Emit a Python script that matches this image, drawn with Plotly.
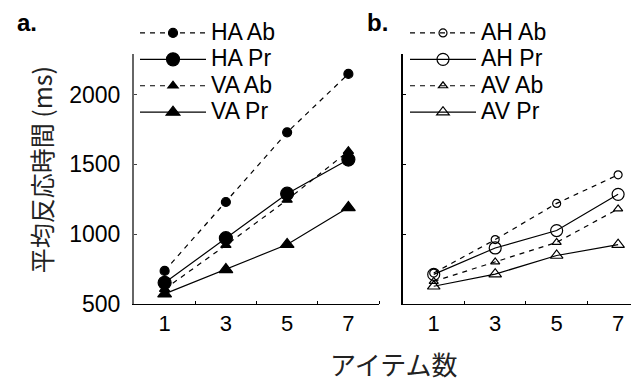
import plotly.graph_objects as go

items = [1, 3, 5, 7]
x_ticks = [1, 3, 5, 7]
y_ticks = [500, 1000, 1500, 2000]

ha_ab = [735, 1230, 1730, 2150]
ha_pr = [650, 970, 1290, 1535]
va_ab = [605, 920, 1245, 1595]
va_pr = [570, 745, 925, 1190]

ah_ab = [720, 960, 1220, 1425]
ah_pr = [710, 900, 1025, 1285]
av_ab = [660, 800, 940, 1180]
av_pr = [625, 712, 846, 924]

W, H = 639, 385
FONT = "Liberation Sans, Arial, sans-serif"
DASH = "5px,5px"

fig = go.Figure()

def add(name, ys, xa, ya, leg, dash, symbol, size):
    fig.add_trace(go.Scatter(
        x=items, y=ys,
        name="<span style='font-size:23px'>" + name + "</span>",
        mode="lines+markers",
        xaxis=xa, yaxis=ya, legend=leg,
        line=dict(color="black", width=1.2, dash=dash),
        marker=dict(symbol=symbol, size=size, color="black",
                    line=dict(color="black", width=1.2)),
    ))

add("HA Ab", ha_ab, "x", "y", "legend", DASH, "circle", 9)
add("HA Pr", ha_pr, "x", "y", "legend", "solid", "circle", 13)
add("VA Ab", va_ab, "x", "y", "legend", DASH, "triangle-up", 9)
add("VA Pr", va_pr, "x", "y", "legend", "solid", "triangle-up", 12)

add("AH Ab", ah_ab, "x2", "y2", "legend2", DASH, "circle-open", 8)
add("AH Pr", ah_pr, "x2", "y2", "legend2", "solid", "circle-open", 12)
add("AV Ab", av_ab, "x2", "y2", "legend2", DASH, "triangle-up-open", 8)
add("AV Pr", av_pr, "x2", "y2", "legend2", "solid", "triangle-up-open", 11)

ydom = [(H - 306) / H, (H - 48) / H]
xaxis_common = dict(
    tickvals=x_ticks, ticktext=[str(v) for v in x_ticks], ticks="",
    showgrid=False, zeroline=False, showline=True, linecolor="black", linewidth=1.2,
    tickfont=dict(family=FONT, size=22, color="black"),
    minor=dict(tickvals=[2, 4, 6, 8], ticks="inside", ticklen=3, tickcolor="black", tickwidth=1),
)
LEGFONT = dict(family=FONT, size=18, color="black")
fig.update_layout(
    width=W, height=H,
    margin=dict(l=0, r=0, t=0, b=0),
    paper_bgcolor="white", plot_bgcolor="white",
    font=dict(family=FONT, color="black"),
    xaxis=dict(domain=[126 / W, 371 / W], range=[0, 8], anchor="y", **xaxis_common),
    xaxis2=dict(domain=[395 / W, 1.0], range=[0, 7.94], anchor="y2", **xaxis_common),
    yaxis=dict(domain=ydom, range=[500, 2290], anchor="x", tickvals=y_ticks,
               ticks="inside", ticklen=3, tickcolor="#444", showgrid=False, zeroline=False,
               showline=True, linecolor="#666", linewidth=2, ticklabelstandoff=7,
               tickfont=dict(family=FONT, size=23, color="black")),
    yaxis2=dict(domain=ydom, range=[500, 2290], anchor="x2", tickvals=y_ticks,
                showticklabels=False, ticks="inside", ticklen=3, tickcolor="black",
                showgrid=False, zeroline=False, showline=True, linecolor="black", linewidth=1.5),
    legend=dict(x=127 / W, y=1 - 7 / H, xanchor="left", yanchor="top",
                font=LEGFONT, bgcolor="rgba(0,0,0,0)", itemwidth=66, tracegroupgap=0),
    legend2=dict(x=397 / W, y=1 - 7 / H, xanchor="left", yanchor="top",
                 font=LEGFONT, bgcolor="rgba(0,0,0,0)", itemwidth=66, tracegroupgap=0),
    showlegend=True,
)

fig.add_annotation(text="平均反応時間 (ms)", textangle=-90, x=33 / W, y=1 - 168 / H,
                   xanchor="center", yanchor="middle",
                   xref="paper", yref="paper", showarrow=False,
                   font=dict(family="Noto Sans CJK JP", size=25, color="#222"))
fig.add_annotation(text="アイテム数", x=385 / W, y=1 - 368 / H,
                   xanchor="center", yanchor="middle",
                   xref="paper", yref="paper", showarrow=False,
                   font=dict(family="Noto Sans CJK JP", size=26, color="#222"))
fig.add_annotation(text="<b>a.</b>", x=19 / W, y=1 - 15 / H, xanchor="center", yanchor="middle",
                   xref="paper", yref="paper",
                   showarrow=False, font=dict(family=FONT, size=24, color="black"))
fig.add_annotation(text="<b>b.</b>", x=369 / W, y=1 - 15 / H, xanchor="center", yanchor="middle",
                   xref="paper", yref="paper",
                   showarrow=False, font=dict(family=FONT, size=24, color="black"))

fig.write_html("out.html")
